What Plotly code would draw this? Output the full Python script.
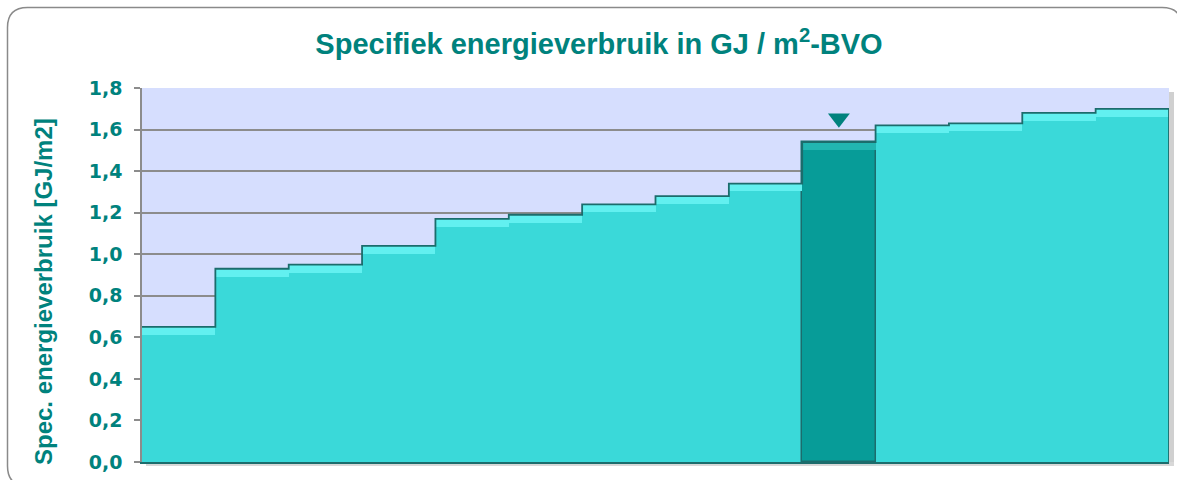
import plotly.graph_objects as go

# ---- data ----
positions = list(range(1, 15))
values = [0.65, 0.93, 0.95, 1.04, 1.17, 1.19, 1.24, 1.28, 1.34, 1.54, 1.62, 1.63, 1.68, 1.70]
highlight_index = 9  # the dark bar (0-based)
marker_y = [1.655]
y_ticks = [0.0, 0.2, 0.4, 0.6, 0.8, 1.0, 1.2, 1.4, 1.6, 1.8]

title_text = "Specifiek energieverbruik in GJ / m<sup>2</sup>-BVO"
y_title_text = "Spec. energieverbruik [GJ/m2]"

# ---- styles ----
TEAL = "#00827D"
BAR = "#3AD9D9"
BAR_DARK = "#079C98"
BEVEL = "#62F0F0"
BEVEL_DARK = "#22B5B1"
EDGE = "#1C6C6C"
FONT = "DejaVu Sans"
TFONT = "Liberation Sans"
bevel_h = 0.038

W, H = 1177, 480
L, R, T, B = 142, 8, 88, 18
pw, ph = W - L - R, H - T - B

n = len(values)
fill_colors = [BAR_DARK if i == highlight_index else BAR for i in range(n)]
bevel_colors = [BEVEL_DARK if i == highlight_index else BEVEL for i in range(n)]
edge_widths = [1.5 if i == highlight_index else 0 for i in range(n)]

fig = go.Figure()
fig.add_trace(go.Bar(
    x=positions, y=values, width=1,
    marker=dict(color=fill_colors, line=dict(color=EDGE, width=edge_widths)),
    hoverinfo="skip", showlegend=False,
))
fig.add_trace(go.Bar(
    x=positions, y=[bevel_h] * n,
    base=[v - bevel_h for v in values], width=1,
    marker=dict(color=bevel_colors, line=dict(width=0)),
    hoverinfo="skip", showlegend=False,
))
# step outline along the bar tops
left_edges = [p - 0.5 for p in positions]
fig.add_trace(go.Scatter(
    x=left_edges + [positions[-1] + 0.5, positions[-1] + 0.5],
    y=values + [values[-1], 0],
    mode="lines", line=dict(color=EDGE, width=1.8, shape="hv"),
    hoverinfo="skip", showlegend=False,
))
fig.add_trace(go.Scatter(
    x=[positions[highlight_index]], y=marker_y, mode="markers",
    marker=dict(symbol="triangle-down", size=19, color=TEAL, line=dict(width=0)),
    hoverinfo="skip", showlegend=False,
))

def px_x(p):
    return (p - L) / pw

def px_y(p):
    return (H - B - p) / ph

# rounded outer border
x0, y0, x1, y1, r = 7.5, 7.5, 1182, 486, 20
path = (
    f"M {px_x(x0)},{px_y(y0 + r)} "
    f"Q {px_x(x0)},{px_y(y0)} {px_x(x0 + r)},{px_y(y0)} "
    f"L {px_x(x1 - r)},{px_y(y0)} "
    f"Q {px_x(x1)},{px_y(y0)} {px_x(x1)},{px_y(y0 + r)} "
    f"L {px_x(x1)},{px_y(y1 - r)} "
    f"Q {px_x(x1)},{px_y(y1)} {px_x(x1 - r)},{px_y(y1)} "
    f"L {px_x(x0 + r)},{px_y(y1)} "
    f"Q {px_x(x0)},{px_y(y1)} {px_x(x0)},{px_y(y1 - r)} Z"
)
shapes = [
    dict(type="path", path=path, xref="paper", yref="paper",
         line=dict(color="#8A8A8A", width=1.5), fillcolor="rgba(0,0,0,0)", layer="below"),
    dict(type="rect", xref="paper", yref="paper",
         x0=1.0, x1=px_x(L + pw + 5), y0=px_y(T + 4), y1=px_y(H - B + 4),
         fillcolor="#D0D0D0", line=dict(width=0), layer="below"),
    dict(type="rect", xref="paper", yref="paper",
         x0=px_x(L + 4), x1=px_x(L + pw + 5), y0=0, y1=px_y(H - B + 4),
         fillcolor="#D8D8D8", line=dict(width=0), layer="below"),
]

fig.update_layout(
    width=W, height=H,
    margin=dict(l=L, r=R, t=T, b=B, pad=0),
    paper_bgcolor="white", plot_bgcolor="#D6DEFE",
    barmode="overlay", bargap=0,
    separators=",.",
    font=dict(family=FONT, color=TEAL),
    shapes=shapes,
    title=dict(text=f"<b>{title_text}</b>", x=px_x(599), xref="paper", xanchor="center",
               y=1 - 44 / H, yanchor="middle",
               font=dict(family=TFONT, size=29, color=TEAL)),
    annotations=[dict(text=f"<b>{y_title_text}</b>", textangle=-90,
                      xref="paper", yref="paper", x=px_x(43), y=px_y(292),
                      xanchor="center", yanchor="middle", showarrow=False,
                      font=dict(family=TFONT, size=24, color=TEAL))],
    xaxis=dict(range=[0.5, 14.5], showticklabels=False, showgrid=False,
               zeroline=False, showline=True, linecolor=EDGE, linewidth=2,
               layer="above traces", ticks="", fixedrange=True),
    yaxis=dict(range=[0, 1.8], tickvals=y_ticks, tickformat=".1f",
               showgrid=True, gridcolor="#8C8C8C", gridwidth=1.5,
               zeroline=False, showline=True, linecolor="#8C8C8C", linewidth=1.5,
               ticks="outside", ticklen=6, tickcolor="#8C8C8C", tickwidth=1.5,
               ticklabelstandoff=8, layer="above traces",
               tickfont=dict(family=FONT, size=19, color=TEAL, weight="bold"),
               fixedrange=True),
)

fig.write_html("out.html", config={"displayModeBar": False},
               post_script="document.body.style.margin='0px';")
